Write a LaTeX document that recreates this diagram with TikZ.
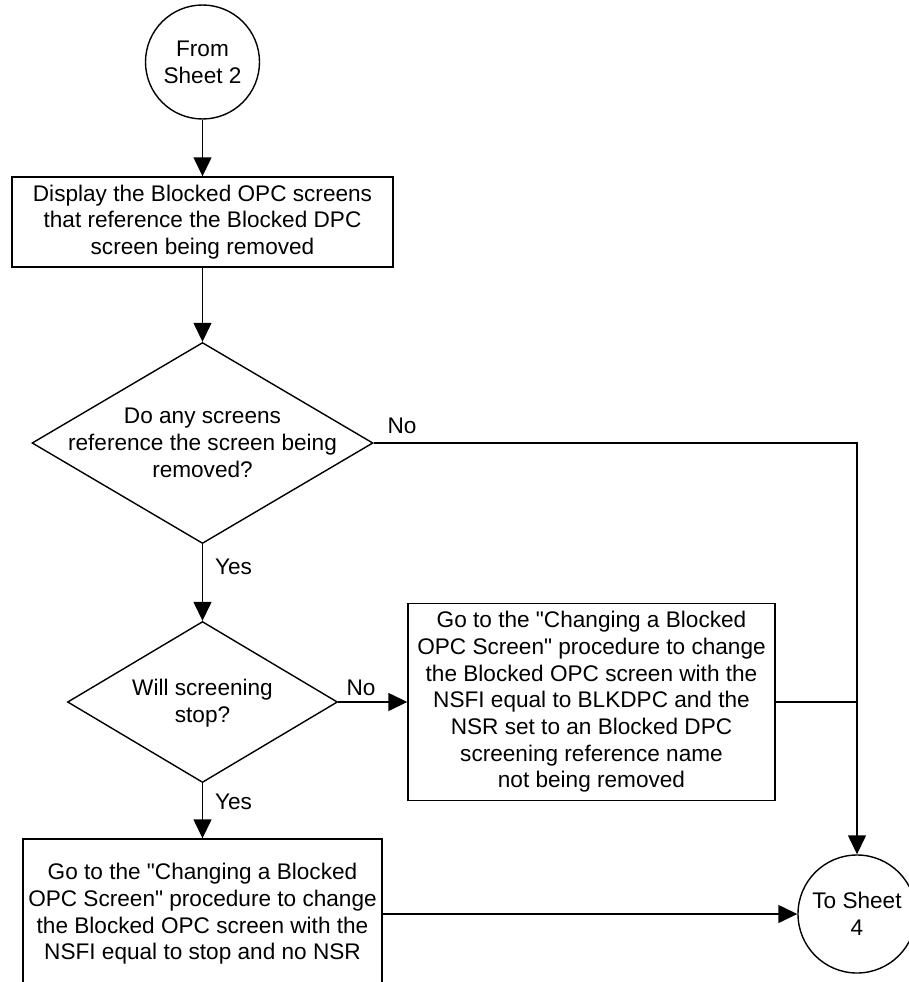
\documentclass[tikz,border=0pt]{standalone}
\usepackage{fontspec}
\setmainfont{Liberation Sans}
\usetikzlibrary{shapes.geometric,arrows.meta}
\begin{document}
\begin{tikzpicture}[x=1pt,y=-1pt,line width=1.4pt,
  every node/.style={font=\fontsize{22.6}{26.7}\selectfont,inner sep=0pt},
  procbox/.style={draw,rectangle,align=center},
  termcircle/.style={draw,circle,align=center},
  decision/.style={draw,diamond},
  dtext/.style={align=center},
  lbl/.style={},
  flow/.style={-{Triangle[width=18pt,length=19pt]}}]
\useasboundingbox (0,0) rectangle (908,982);

\node[termcircle,minimum size=114pt] (s2) at (202.5,62) {From\\Sheet 2};
\node[procbox,minimum width=381pt,minimum height=90pt] (b1) at (202.5,222)
  {Display the Blocked OPC screens\\that reference the Blocked DPC\\screen being removed};
\node[decision,minimum width=341pt,minimum height=201pt] (d1) at (202.5,443) {};
\node[dtext] (d1t) at (202.5,443) {Do any screens\\reference the screen being\\removed?};
\node[decision,minimum width=270pt,minimum height=161pt] (d2) at (202.5,702) {};
\node[dtext] (d2t) at (202.5,703) {Will screening\\stop?};
\node[procbox,minimum width=367pt,minimum height=197pt] (b2) at (591.5,702)
  {Go to the \textquotedbl Changing a Blocked\\OPC Screen\textquotedbl{} procedure to change\\the Blocked OPC screen with the\\NSFI equal to BLKDPC and the\\NSR set to an Blocked DPC\\screening reference name\\not being removed};
\node[procbox,minimum width=359pt,minimum height=150pt] (b3) at (202.5,914)
  {Go to the \textquotedbl Changing a Blocked\\OPC Screen\textquotedbl{} procedure to change\\the Blocked OPC screen with the\\NSFI equal to stop and no NSR};
\node[termcircle,minimum size=118pt] (c2) at (857,914) {To Sheet\\4};

\node[lbl] (no1) at (402,426) {No};
\node[lbl] (yes1) at (233.5,567) {Yes};
\node[lbl] (no2) at (361,688) {No};
\node[lbl] (yes2) at (233.5,802) {Yes};

\draw[flow] (s2) -- (b1);
\draw[flow] (b1) -- (d1);
\draw[flow] (d1.east) -| (c2.north);
\draw[flow] (d1) -- (d2);
\draw[flow] (d2.east) -- (b2.west);
\draw (b2.east) -- (b2.east -| c2.north);
\draw[flow] (d2) -- (b3);
\draw[flow] (b3) -- (c2);
\end{tikzpicture}
\end{document}
